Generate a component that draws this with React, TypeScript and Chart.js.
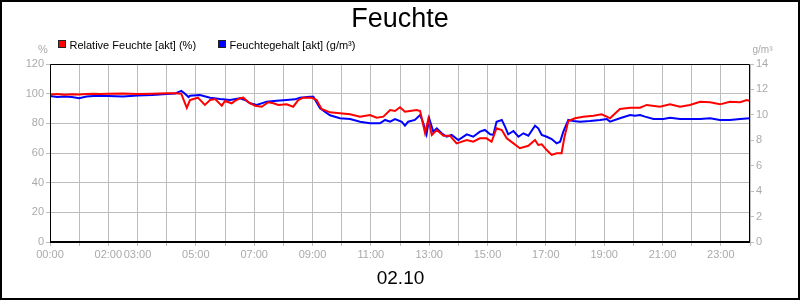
import React, { useEffect, useRef } from "react";
import { Chart, registerables } from "chart.js";

Chart.register(...registerables);

const title = "Feuchte";
const dateLabel = "02.10";
const seriesNames = ["Relative Feuchte [akt] (%)", "Feuchtegehalt [akt] (g/m³)"];
const leftUnit = "%";
const rightUnit = "g/m³";
const xLabelHours = [0, 2, 3, 5, 7, 9, 11, 13, 15, 17, 19, 21, 23];

// Relative Feuchte (%) — time in hours
const rhTimes = [
  0, 0.25, 0.5, 0.75, 1, 1.25, 1.5, 1.75, 2, 2.5, 3, 3.5, 4, 4.3, 4.5, 4.69, 4.8, 5.07, 5.31, 5.49,
  5.66, 5.89, 6.0, 6.23, 6.34, 6.51, 6.63, 6.8, 7.03, 7.26, 7.48, 7.66, 7.83, 8.11, 8.34, 8.51,
  8.68, 8.97, 9.14, 9.31, 9.6, 9.94, 10.29, 10.63, 10.97, 11.2, 11.43, 11.66, 11.83, 12.0, 12.17,
  12.34, 12.57, 12.69, 12.86, 12.97, 13.09, 13.26, 13.49, 13.71, 13.94, 14.29, 14.51, 14.74, 14.97,
  15.14, 15.31, 15.49, 15.66, 15.89, 16.11, 16.4, 16.63, 16.74, 16.86, 17.03, 17.2, 17.37, 17.54,
  17.63, 17.77, 18.0, 18.28, 18.63, 18.91, 19.09, 19.2, 19.54, 19.89, 20.23, 20.46, 20.91, 21.26,
  21.6, 21.94, 22.29, 22.63, 22.97, 23.31, 23.66, 23.89, 24,
];
const rhValues = [
  99.5, 99.8, 99.2, 99.6, 99.4, 99.8, 100.0, 99.7, 99.9, 100.1, 99.8, 100.0, 100.2, 100.3, 100.0,
  90.5, 95.7, 97.3, 92.4, 95.7, 96.4, 91.9, 95.1, 93.5, 95.1, 96.9, 97.3, 94.2, 91.9, 91.2, 94.2,
  93.5, 92.4, 92.8, 91.2, 95.7, 97.3, 97.3, 95.7, 89.7, 87.4, 86.8, 86.1, 84.5, 85.6, 83.8, 84.5,
  89.0, 88.3, 90.8, 87.8, 88.3, 89.0, 88.3, 73.3, 82.9, 72.1, 75.5, 71.7, 71.7, 66.5, 68.8, 67.6,
  69.9, 69.9, 67.6, 76.7, 75.5, 69.9, 66.5, 63.2, 64.9, 68.8, 65.4, 65.9, 62.0, 58.7, 59.8, 59.8,
  69.9, 81.6, 83.4, 84.5, 85.1, 86.1, 84.5, 83.4, 89.7, 90.5, 90.5, 92.4, 91.2, 92.8, 91.2, 92.4,
  94.6, 94.2, 92.8, 94.6, 94.2, 95.7, 95.1,
];

// Feuchtegehalt (g/m³) — time in hours
const ahTimes = [
  0, 0.25, 0.5, 0.75, 1, 1.25, 1.5, 2, 2.5, 3, 3.5, 4, 4.3, 4.5, 4.6, 4.75, 4.8, 5.14, 5.49, 5.83,
  6.17, 6.51, 6.69, 6.86, 7.09, 7.43, 7.77, 8.11, 8.4, 8.57, 8.91, 9.03, 9.26, 9.6, 9.94, 10.29,
  10.63, 10.97, 11.31, 11.49, 11.66, 11.83, 12.06, 12.17, 12.28, 12.51, 12.69, 12.8, 12.91, 13.0,
  13.14, 13.26, 13.43, 13.6, 13.77, 14.0, 14.29, 14.51, 14.74, 14.91, 15.09, 15.2, 15.31, 15.49,
  15.6, 15.71, 15.89, 16.06, 16.23, 16.4, 16.63, 16.74, 16.86, 17.03, 17.2, 17.37, 17.49, 17.6,
  17.77, 17.94, 18.17, 18.51, 18.86, 19.09, 19.2, 19.54, 19.89, 20.06, 20.23, 20.4, 20.69, 21.03,
  21.26, 21.6, 21.94, 22.29, 22.63, 22.97, 23.31, 23.66, 24,
];
const ahValues = [
  11.48, 11.4, 11.44, 11.4, 11.3, 11.44, 11.48, 11.48, 11.44, 11.52, 11.56, 11.64, 11.68, 11.88,
  11.72, 11.4, 11.51, 11.56, 11.35, 11.25, 11.17, 11.3, 11.17, 10.91, 10.78, 11.04, 11.11, 11.17,
  11.22, 11.35, 11.43, 11.43, 10.52, 9.97, 9.73, 9.67, 9.46, 9.34, 9.34, 9.6, 9.46, 9.67, 9.46,
  9.15, 9.46, 9.6, 9.99, 9.34, 8.47, 9.73, 8.68, 8.94, 8.55, 8.28, 8.42, 8.02, 8.47, 8.28, 8.68,
  8.81, 8.47, 8.42, 9.46, 9.6, 9.07, 8.47, 8.73, 8.28, 8.55, 8.36, 9.15, 8.94, 8.42, 8.28, 8.1,
  7.76, 7.89, 8.68, 9.6, 9.52, 9.46, 9.52, 9.6, 9.67, 9.46, 9.73, 9.99, 9.93, 9.99, 9.86, 9.67,
  9.67, 9.78, 9.67, 9.67, 9.67, 9.73, 9.6, 9.6, 9.67, 9.73,
];

const FONT = "'Liberation Sans', Arial, sans-serif";
const GRID = "#bdbdbd";
const TICKTXT = "#aaaaaa";

function fmtHour(h: number) {
  return (h < 10 ? "0" : "") + h + ":00";
}

const decor = {
  id: "decor",
  afterDraw(chart: any) {
    const ctx = chart.ctx as CanvasRenderingContext2D;
    const { left, right, top, bottom } = chart.chartArea;
    ctx.save();
    // plot frame
    ctx.strokeStyle = "#000";
    ctx.lineWidth = 1;
    ctx.beginPath();
    ctx.moveTo(left + 0.5, bottom);
    ctx.lineTo(left + 0.5, top + 0.5);
    ctx.lineTo(right - 0.5, top + 0.5);
    ctx.lineTo(right - 0.5, bottom);
    ctx.stroke();
    ctx.lineWidth = 2;
    ctx.beginPath();
    ctx.moveTo(left, bottom);
    ctx.lineTo(right, bottom);
    ctx.stroke();
    // outer frame
    ctx.lineWidth = 2;
    ctx.strokeRect(1, 1, chart.width - 2, chart.height - 2);
    // title
    ctx.fillStyle = "#000";
    ctx.font = `27px ${FONT}`;
    ctx.textAlign = "center";
    ctx.textBaseline = "alphabetic";
    ctx.fillText(title, 400, 27);
    // date
    ctx.font = `19px ${FONT}`;
    ctx.fillText(dateLabel, 400.5, 283.5);
    // legend
    ctx.font = `11px ${FONT}`;
    ctx.textAlign = "left";
    const items = [
      { x: 58, color: "#ff0000", text: seriesNames[0] },
      { x: 218, color: "#0000ff", text: seriesNames[1] },
    ];
    for (const it of items) {
      ctx.fillStyle = it.color;
      ctx.fillRect(it.x, 40, 8, 8);
      ctx.strokeStyle = "#222";
      ctx.lineWidth = 1;
      ctx.strokeRect(it.x + 0.5, 40.5, 7, 7);
      ctx.fillStyle = "#000";
      ctx.fillText(it.text, it.x + 11.5, 48.5);
    }
    // units
    ctx.fillStyle = TICKTXT;
    ctx.font = `11px ${FONT}`;
    ctx.textAlign = "center";
    ctx.fillText(leftUnit, 43, 53);
    ctx.font = `10px ${FONT}`;
    ctx.textAlign = "left";
    ctx.fillText(rightUnit, 752.5, 53);
    ctx.restore();
  },
};

export default function App() {
  const ref = useRef<HTMLCanvasElement | null>(null);
  useEffect(() => {
    if (!ref.current) return;
    const chart = new Chart(ref.current, {
      type: "line",
      data: {
        datasets: [
          {
            label: seriesNames[0],
            data: rhTimes.map((t, i) => ({ x: t, y: rhValues[i] })),
            borderColor: "#ff0000",
            backgroundColor: "#ff0000",
            borderWidth: 2,
            pointRadius: 0,
            tension: 0,
            yAxisID: "y",
          },
          {
            label: seriesNames[1],
            data: ahTimes.map((t, i) => ({ x: t, y: ahValues[i] })),
            borderColor: "#0000ff",
            backgroundColor: "#0000ff",
            borderWidth: 2,
            pointRadius: 0,
            tension: 0,
            yAxisID: "y1",
          },
        ],
      },
      options: {
        responsive: false,
        animation: false,
        layout: { padding: { top: 64, left: 0, right: 0, bottom: 0 } },
        plugins: {
          legend: { display: false },
          title: { display: false },
          tooltip: { enabled: false },
        },
        scales: {
          x: {
            type: "linear",
            min: 0,
            max: 24,
            afterBuildTicks: (scale: any) => {
              const t = [];
              for (let h = 0; h <= 24; h++) t.push({ value: h });
              scale.ticks = t;
            },
            afterFit: (scale: any) => {
              scale.height = 58;
            },
            ticks: {
              autoSkip: false,
              maxRotation: 0,
              minRotation: 0,
              padding: 2,
              color: TICKTXT,
              font: { family: FONT, size: 11 },
              callback: (v: any) => (xLabelHours.includes(Number(v)) ? fmtHour(Number(v)) : ""),
            },
            grid: { color: GRID, lineWidth: 1, tickLength: 4 },
            border: { display: false },
          },
          y: {
            position: "left",
            min: 0,
            max: 120,
            afterFit: (scale: any) => {
              scale.width = 50;
            },
            ticks: {
              stepSize: 20,
              padding: 2,
              color: TICKTXT,
              font: { family: FONT, size: 11 },
            },
            grid: { color: GRID, lineWidth: 1, tickLength: 4 },
            border: { display: false },
          },
          y1: {
            position: "right",
            min: 0,
            max: 14,
            afterFit: (scale: any) => {
              scale.width = 50;
            },
            ticks: {
              stepSize: 2,
              padding: 2,
              color: TICKTXT,
              font: { family: FONT, size: 11 },
            },
            grid: { drawOnChartArea: false, color: GRID, lineWidth: 1, tickLength: 4 },
            border: { display: false },
          },
        },
      },
      plugins: [decor],
    } as any);
    return () => chart.destroy();
  }, []);
  return (
    <div style={{ position: "absolute", left: 0, top: 0, width: 800, height: 300, background: "#fff" }}>
      <canvas ref={ref} width={800} height={300} style={{ display: "block" }} />
    </div>
  );
}
